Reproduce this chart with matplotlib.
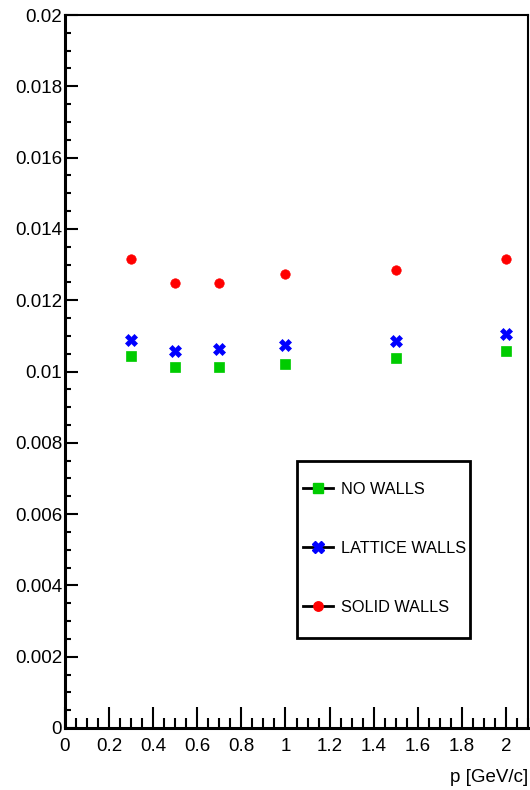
import matplotlib
matplotlib.use("Agg")
import matplotlib.pyplot as plt
from matplotlib.lines import Line2D
from matplotlib.patches import Rectangle
from matplotlib.ticker import MultipleLocator, FuncFormatter

plt.rcParams["font.family"] = ["Liberation Sans", "DejaVu Sans"]

# momentum values
p = [0.3, 0.5, 0.7, 1.0, 1.5, 2.0]

no_walls = [0.01043, 0.01013, 0.01013, 0.01021, 0.01037, 0.01058]
lattice_walls = [0.01088, 0.01058, 0.01062, 0.01074, 0.01086, 0.01105]
solid_walls = [0.01316, 0.01249, 0.01249, 0.01273, 0.01285, 0.01316]

labels = ["NO WALLS", "LATTICE WALLS", "SOLID WALLS"]
colours = ["#00cc00", "#0000ff", "#ff0000"]
markers = ["s", "X", "o"]
msizes = [6.5, 8.5, 6.8]

fig = plt.figure(figsize=(5.3, 7.9), dpi=100)
ax = fig.add_axes([65 / 530, 62 / 790, 463 / 530, 713 / 790])

for ys, colour, marker, ms in zip([no_walls, lattice_walls, solid_walls],
                                  colours, markers, msizes):
    ax.plot(p, ys, linestyle="none", marker=marker, color=colour,
            markersize=ms, markeredgewidth=0.5)

ax.set_xlim(0, 2.1)
ax.set_ylim(0, 0.02)

ax.xaxis.set_major_locator(MultipleLocator(0.2))
ax.xaxis.set_minor_locator(MultipleLocator(0.05))
ax.yaxis.set_major_locator(MultipleLocator(0.002))
ax.yaxis.set_minor_locator(MultipleLocator(0.0005))
fmt = FuncFormatter(lambda v, pos: "%g" % round(v, 6))
ax.xaxis.set_major_formatter(fmt)
ax.yaxis.set_major_formatter(fmt)

ax.tick_params(axis="both", which="both", direction="in", width=1.5,
               labelsize=13.5, top=False, right=False)
ax.tick_params(axis="x", which="major", length=15, pad=7)
ax.tick_params(axis="x", which="minor", length=7)
ax.tick_params(axis="y", which="major", length=9, pad=2)
ax.tick_params(axis="y", which="minor", length=4)

for side in ["left", "bottom"]:
    ax.spines[side].set_linewidth(2.2)
for side in ["top", "right"]:
    ax.spines[side].set_linewidth(1.5)

ax.set_xlabel("p [GeV/c]", fontsize=13.5, loc="right", labelpad=10)

# legend box drawn by hand so the padding matches
ax.add_patch(Rectangle((0.501, 0.126), 0.374, 0.2485, transform=ax.transAxes,
                       fill=False, edgecolor="black", linewidth=2,
                       zorder=5))

handles = [
    Line2D([], [], color="black", lw=2, marker=m, markersize=ms,
           markerfacecolor=c, markeredgecolor=c)
    for m, c, ms in zip(markers, colours, msizes)
]
leg = ax.legend(handles, labels, loc="center left",
                bbox_to_anchor=(0.514, 0.2518), fontsize=11.7,
                frameon=False, labelspacing=2.7, handlelength=1.85,
                handletextpad=0.5, borderpad=0, borderaxespad=0)

fig.savefig("out.png", dpi=100)
